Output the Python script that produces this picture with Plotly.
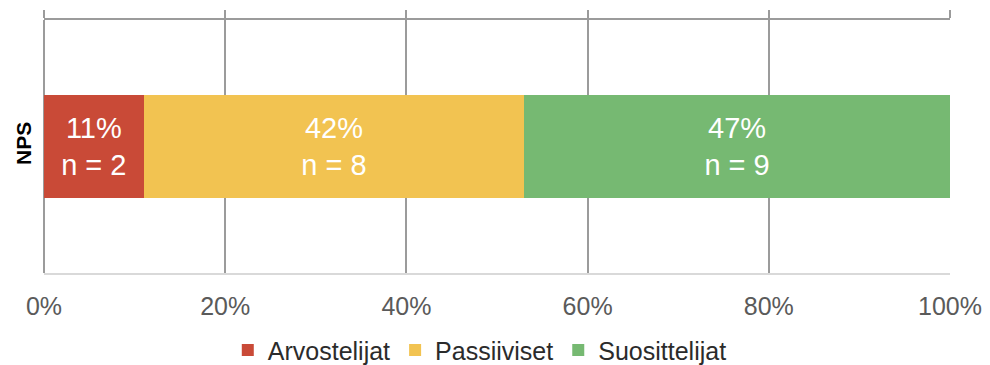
import plotly.graph_objects as go

# NPS breakdown
category = "NPS"
groups = ["Arvostelijat", "Passiiviset", "Suosittelijat"]
shares = [11, 42, 47]          # percent of respondents
counts = [2, 8, 9]             # respondents per group
colors = ["#C94A37", "#F2C351", "#76B972"]

grid_color = "#9b9b9b"
font_family = "Liberation Sans, Arial, Helvetica, sans-serif"

fig = go.Figure()
for name, share, n, color in zip(groups, shares, counts, colors):
    fig.add_trace(go.Bar(
        x=[share],
        y=[0],
        name=name,
        orientation="h",
        width=1,
        marker=dict(color=color, line=dict(width=0)),
        text=[f"{share}%<br>n = {n}"],
        textposition="inside",
        insidetextanchor="middle",
        textangle=0,
        constraintext="none",
        textfont=dict(color="white", size=29, family=font_family),
        hoverinfo="skip",
    ))

# empty trace so the top axis (tick stubs + frame line) is drawn
fig.add_trace(go.Scatter(x=[], y=[], xaxis="x2", showlegend=False, hoverinfo="skip"))

fig.update_layout(
    width=990,
    height=365,
    barmode="stack",
    plot_bgcolor="white",
    paper_bgcolor="white",
    margin=dict(l=44, r=40, t=20, b=92, autoexpand=False),
    font=dict(family=font_family),
    xaxis=dict(
        range=[0, 100],
        dtick=20,
        ticksuffix="%",
        showgrid=True,
        gridcolor=grid_color,
        gridwidth=1.8,
        zeroline=True,
        zerolinecolor=grid_color,
        zerolinewidth=1.8,
        showline=True,
        linecolor="#d9d9d9",
        linewidth=1.5,
        ticks="",
        ticklabelstandoff=10,
        tickfont=dict(size=25, color="#5a5a5a"),
        fixedrange=True,
    ),
    xaxis2=dict(
        overlaying="x",
        side="top",
        anchor="y",
        range=[0, 100],
        dtick=20,
        showgrid=False,
        zeroline=False,
        showline=True,
        linecolor=grid_color,
        linewidth=2,
        ticks="outside",
        ticklen=8,
        tickwidth=1.8,
        tickcolor=grid_color,
        showticklabels=False,
    ),
    yaxis=dict(
        range=[-1.228, 1.228],
        tickvals=[0],
        ticktext=[f"<b>{category}</b>"],
        tickangle=-90,
        tickfont=dict(size=21, color="black"),
        showgrid=False,
        zeroline=False,
        showline=False,
        ticks="",
        ticklabelstandoff=8,
        fixedrange=True,
    ),
    legend=dict(
        orientation="h",
        traceorder="normal",
        x=0.481,
        xanchor="center",
        y=-0.305,
        yanchor="middle",
        font=dict(size=25, color="#2b2b2b"),
        itemwidth=30,
        tracegroupgap=0,
    ),
    showlegend=True,
)

fig.write_html("out.html")
